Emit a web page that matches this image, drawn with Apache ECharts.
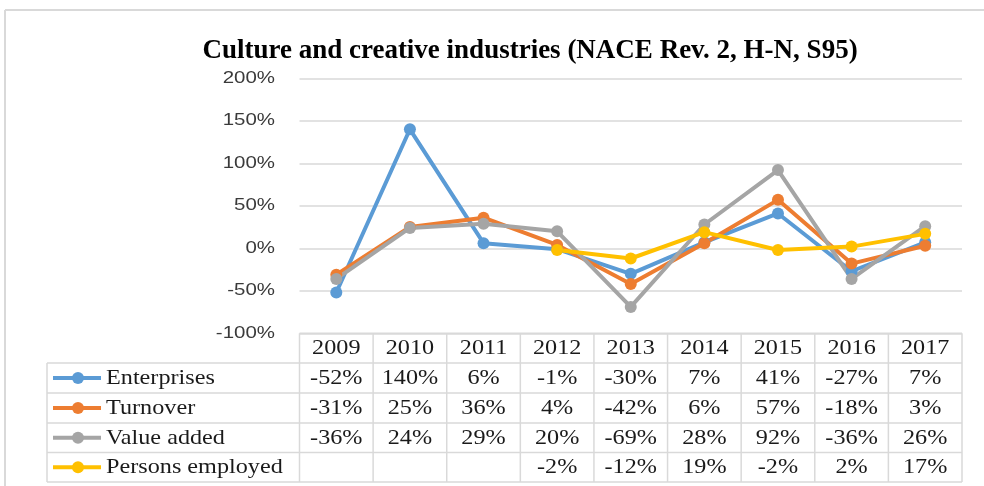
<!DOCTYPE html>
<html><head><meta charset="utf-8">
<script src="https://cdn.jsdelivr.net/npm/echarts@6/dist/echarts.min.js"></script>
<style>html,body{margin:0;padding:0;background:#fff}#c{width:984px;height:486px}</style>
</head><body><div id="c"></div>
<script>
const years = ['2009','2010','2011','2012','2013','2014','2015','2016','2017'];
const seriesNames = ['Enterprises','Turnover','Value added','Persons employed'];
const enterprises = [-52,140,6,-1,-30,7,41,-27,7];
const turnover = [-31,25,36,4,-42,6,57,-18,3];
const valueAdded = [-36,24,29,20,-69,28,92,-36,26];
const personsEmployed = [null,null,null,-2,-12,19,-2,2,17];
const yTicks = [-100,-50,0,50,100,150,200];
const colors = ['#5B9BD5','#ED7D31','#A5A5A5','#FFC000'];
const allData = [enterprises, turnover, valueAdded, personsEmployed];

const GL = 299.5, GR = 962, GT = 78.3, GB = 333.3;
const rowTops = [333.3, 363, 393, 423, 452.5, 482];
const tableLeft = 47;
const colW = (GR - GL) / years.length;
const lineCol = '#d9d9d9';
const serif = '"Liberation Serif","Times New Roman",serif';
const sans = '"Liberation Sans",Arial,sans-serif';
const SX = 1.1;

const chart = echarts.init(document.getElementById('c'));
const g = [];
g.push({type:'line', shape:{x1:5,y1:10,x2:984,y2:10}, style:{stroke:'#d9d9d9',lineWidth:2}});
g.push({type:'line', shape:{x1:5,y1:10,x2:5,y2:486}, style:{stroke:'#d9d9d9',lineWidth:2}});
for (let r = 0; r < rowTops.length; r++) {
  const x1 = r === 0 ? GL : tableLeft;
  g.push({type:'line', shape:{x1:x1,y1:rowTops[r],x2:GR,y2:rowTops[r]}, style:{stroke:lineCol,lineWidth:1.5}});
}
g.push({type:'line', shape:{x1:tableLeft,y1:rowTops[1],x2:tableLeft,y2:rowTops[5]}, style:{stroke:lineCol,lineWidth:1.5}});
for (let i = 0; i <= years.length; i++) {
  const x = GL + i * colW;
  g.push({type:'line', shape:{x1:x,y1:rowTops[0],x2:x,y2:rowTops[5]}, style:{stroke:lineCol,lineWidth:1.5}});
}

chart.setOption({
  animation:false,
  backgroundColor:'#fff',
  title:{text:'Culture and creative industries (NACE Rev. 2, H-N, S95)', left:525, top:33, textAlign:'center',
    textStyle:{fontFamily:serif, fontWeight:'bold', fontSize:27, color:'#000'}},
  grid:{left:GL, right:984-GR, top:GT, bottom:486-GB, containLabel:false},
  xAxis:{type:'category', data:years, boundaryGap:true, axisLine:{show:false}, axisTick:{show:false}, axisLabel:{show:false}, splitLine:{show:false}},
  yAxis:{type:'value', min:-100, max:200, interval:50,
    axisLabel:{show:false},
    axisLine:{show:false}, axisTick:{show:false},
    splitLine:{lineStyle:{color:'#d9d9d9', width:1.5}}},
  series: seriesNames.map((n, i) => ({
    name:n, type:'line', data:allData[i], connectNulls:false,
    symbol:'circle', symbolSize:12, showSymbol:true,
    lineStyle:{color:colors[i], width:4}, itemStyle:{color:colors[i]}
  }))
});

yTicks.forEach(v => {
  const py = chart.convertToPixel({yAxisIndex:0}, v);
  g.push({type:'text', x:275, y:py, scaleX:1.24,
    style:{text: v + '%', font:'16.5px '+sans, fill:'#3a3a3a', align:'right', verticalAlign:'middle'}});
});
years.forEach((y, i) => {
  const px = chart.convertToPixel({xAxisIndex:0}, i);
  g.push({type:'text', x: px, y:(rowTops[0]+rowTops[1])/2, scaleX:SX,
    style:{text:y, font:'22px '+serif, fill:'#1a1a1a', align:'center', verticalAlign:'middle'}});
});
seriesNames.forEach((name, r) => {
  const cy = (rowTops[r+1] + rowTops[r+2]) / 2;
  g.push({type:'line', shape:{x1:53,y1:cy,x2:101,y2:cy}, style:{stroke:colors[r],lineWidth:4}});
  g.push({type:'circle', shape:{cx:78,cy:cy,r:6}, style:{fill:colors[r]}});
  g.push({type:'text', x:106, y:cy, scaleX:SX, style:{text:name, font:'22px '+serif, fill:'#1a1a1a', align:'left', verticalAlign:'middle'}});
  allData[r].forEach((v, i) => {
    if (v === null) return;
    const px = chart.convertToPixel({xAxisIndex:0}, i);
    g.push({type:'text', x: px, y: cy, scaleX:SX,
      style:{text: v + '%', font:'22px '+serif, fill:'#1a1a1a', align:'center', verticalAlign:'middle'}});
  });
});
chart.setOption({graphic: g});
</script></body></html>
